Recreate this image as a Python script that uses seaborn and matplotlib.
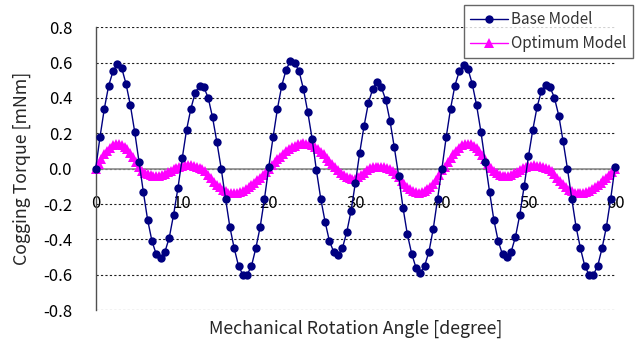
import numpy as np
import pandas as pd
import seaborn as sns
import matplotlib.pyplot as plt

# cogging torque [mNm], base model sampled every 0.5 deg
base_torque = [
    0.00, 0.18, 0.34, 0.47, 0.55, 0.59, 0.57, 0.48, 0.36, 0.21,
    0.04, -0.13, -0.29, -0.41, -0.485, -0.505, -0.47, -0.39, -0.26, -0.11,
    0.06, 0.22, 0.34, 0.43, 0.47, 0.46, 0.40, 0.29, 0.15, 0.00,
    -0.17, -0.33, -0.45, -0.55, -0.60, -0.60, -0.55, -0.45, -0.33, -0.17,
    0.01, 0.18, 0.34, 0.47, 0.56, 0.61, 0.60, 0.55, 0.45, 0.32,
    0.17, -0.01, -0.17, -0.30, -0.41, -0.47, -0.49, -0.45, -0.36, -0.24,
    -0.08, 0.09, 0.24, 0.37, 0.45, 0.49, 0.46, 0.39, 0.27, 0.12,
    -0.04, -0.22, -0.37, -0.48, -0.56, -0.59, -0.55, -0.47, -0.34, -0.17,
    0.00, 0.18, 0.34, 0.47, 0.55, 0.585, 0.565, 0.48, 0.36, 0.21,
    0.04, -0.13, -0.29, -0.41, -0.485, -0.50, -0.47, -0.385, -0.26, -0.10,
    0.07, 0.22, 0.35, 0.44, 0.475, 0.46, 0.40, 0.30, 0.155, 0.00,
    -0.17, -0.33, -0.45, -0.55, -0.60, -0.60, -0.55, -0.45, -0.33, -0.17,
    0.01,
]

# optimum model sampled every 1/3 deg
opt_torque = [
    0.000, 0.028, 0.056, 0.080, 0.102, 0.119, 0.132, 0.139, 0.140, 0.135,
    0.125, 0.109, 0.088, 0.064, 0.038, 0.010, -0.012, -0.022, -0.031, -0.038,
    -0.041, -0.042, -0.041, -0.037, -0.030, -0.021, -0.011, -0.002, 0.005, 0.011,
    0.016, 0.018, 0.019, 0.018, 0.015, 0.010, 0.005, 0.000, -0.016, -0.035,
    -0.054, -0.073, -0.091, -0.106, -0.119, -0.129, -0.136, -0.140, -0.140, -0.138,
    -0.133, -0.126, -0.117, -0.106, -0.094, -0.080, -0.066, -0.051, -0.035, -0.019,
    -0.003,
    0.018, 0.035, 0.052, 0.068, 0.083, 0.097, 0.110, 0.121, 0.130, 0.137,
    0.141, 0.143, 0.142, 0.138, 0.131, 0.122, 0.110, 0.096, 0.080, 0.062,
    0.043, 0.024, 0.008, -0.008, -0.022, -0.036, -0.047, -0.054, -0.057, -0.056,
    -0.050, -0.038, -0.022, -0.006, 0.002, 0.007, 0.010, 0.011, 0.010, 0.008,
    0.004, -0.001, -0.012, -0.030, -0.050, -0.070, -0.088, -0.104, -0.117, -0.127,
    -0.133, -0.135, -0.133, -0.127, -0.117, -0.103, -0.085, -0.063, -0.037, -0.010,
    0.012, 0.035, 0.060, 0.082, 0.101, 0.118, 0.131, 0.139, 0.140, 0.137,
    0.128, 0.114, 0.097, 0.076, 0.052, 0.026, 0.002, -0.015, -0.027, -0.036,
    -0.040, -0.041, -0.039, -0.034, -0.026, -0.017, -0.007, 0.002, 0.009, 0.014,
    0.017, 0.018, 0.016, 0.013, 0.008, 0.003, -0.003, -0.015, -0.032, -0.051,
    -0.070, -0.088, -0.104, -0.118, -0.128, -0.135, -0.139, -0.140, -0.138, -0.133,
    -0.126, -0.117, -0.106, -0.094, -0.080, -0.066, -0.051, -0.035, -0.019, -0.003,
]

base_angle = np.linspace(0, 60, len(base_torque))
opt_angle = np.linspace(0, 60, len(opt_torque))

x_ticks = [0, 10, 20, 30, 40, 50, 60]
y_ticks = [-0.8, -0.6, -0.4, -0.2, 0.0, 0.2, 0.4, 0.6, 0.8]
y_labels = ["-0.8", "-0.6", "-0.4", "-0.2", "0.0", "0.2", "0.4", "0.6", "0.8"]

sns.set_style("white")
plt.rcParams['font.family'] = ['Noto Sans CJK KR', 'DejaVu Sans']

fig, ax = plt.subplots(figsize=(6.38, 3.40), dpi=100)
fig.subplots_adjust(left=0.15, right=0.964, bottom=0.088, top=0.92)

sns.lineplot(x=base_angle, y=base_torque, ax=ax, color='#000080', marker='o',
             markersize=6, markeredgewidth=0, linewidth=1.0, sort=False,
             label='Base Model', zorder=4, clip_on=False)
sns.lineplot(x=opt_angle, y=opt_torque, ax=ax, color='#FF00FF', marker='^',
             markersize=7.5, markeredgewidth=0, linewidth=1.0, sort=False,
             label='Optimum Model', zorder=3, clip_on=False)

ax.set_xlim(0, 60)
ax.set_ylim(-0.8, 0.8)
ax.set_xticks(x_ticks)
ax.set_yticks(y_ticks)
ax.set_yticklabels(y_labels)

ax.yaxis.grid(True, color='#202020', linestyle=(0, (2, 2)), linewidth=0.8)
ax.xaxis.grid(False)
ax.set_axisbelow(True)

for side in ['top', 'right']:
    ax.spines[side].set_visible(False)
ax.spines['left'].set_color('#505050')
ax.spines['left'].set_linewidth(1.0)
ax.spines['bottom'].set_position(('data', 0))
ax.spines['bottom'].set_color('#8c8c8c')
ax.spines['bottom'].set_linewidth(1.2)

ax.tick_params(axis='x', direction='in', length=3, width=1, color='#8c8c8c',
               pad=19, labelsize=12, labelcolor='black')
ax.tick_params(axis='y', length=0, pad=17, labelsize=12, labelcolor='black')

ax.set_xlabel('Mechanical Rotation Angle [degree]', fontsize=12.8)
ax.set_ylabel('Cogging Torque [mNm]', fontsize=12.8)
ax.xaxis.set_label_coords(0.5, -0.035)
ax.yaxis.set_label_coords(-0.125, 0.5)

leg = ax.legend(loc='upper right', bbox_to_anchor=(0.992, 0.985),
                bbox_transform=fig.transFigure, frameon=True, fancybox=False,
                fontsize=11, handlelength=2.5, borderpad=0.4, labelspacing=0.45,
                handletextpad=0.2, borderaxespad=0)
leg.get_frame().set_edgecolor('#404040')
leg.get_frame().set_linewidth(1.0)
for t in leg.get_texts():
    t.set_color('#333333')

fig.savefig('out.png', dpi=100)
